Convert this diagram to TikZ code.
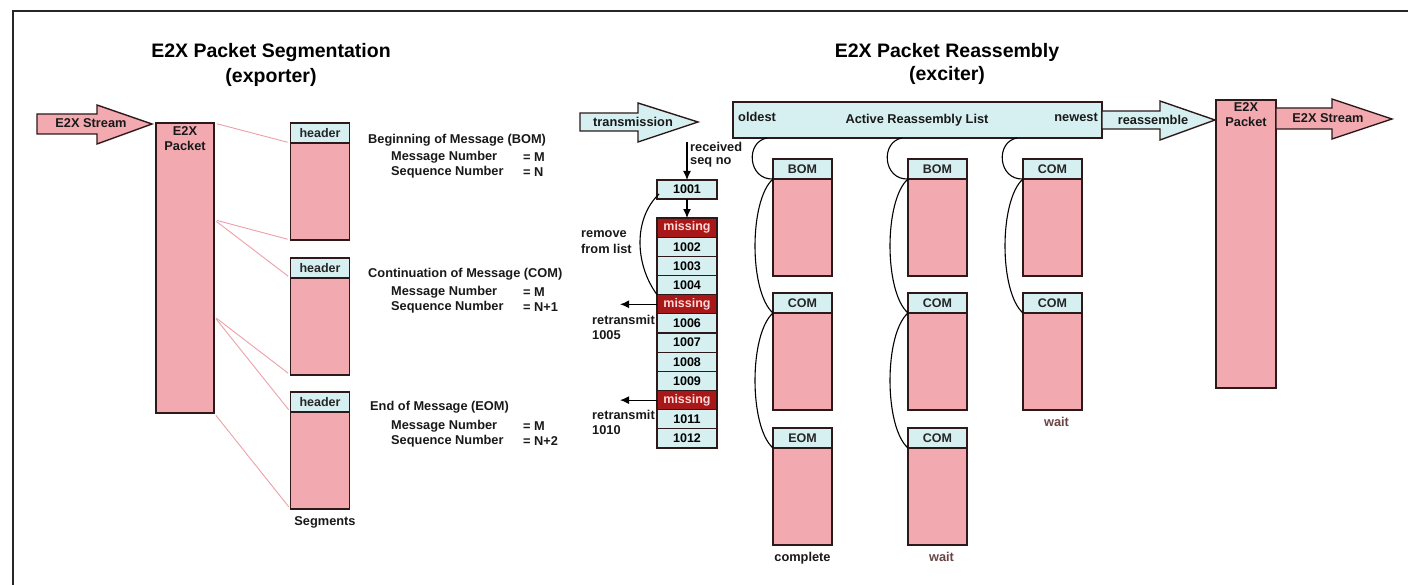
\documentclass[tikz,border=0pt]{standalone}
\usepackage{fontspec}
\setmainfont{Liberation Sans}
\usetikzlibrary{arrows.meta,calc}
\definecolor{pk}{RGB}{242,170,176}
\definecolor{cy}{RGB}{214,240,242}
\definecolor{dr}{RGB}{168,24,24}
\definecolor{edge}{RGB}{45,25,25}
\definecolor{thin}{RGB}{236,160,168}
\definecolor{waitc}{RGB}{105,70,70}
\tikzset{
  lbl/.style={font=\bfseries\fontsize{12.8}{15}\selectfont, inner sep=1pt, text=black!90},
  ttl/.style={font=\bfseries\fontsize{19.5}{23}\selectfont, inner sep=0pt},
  pkbox/.style={draw=edge, fill=pk, line width=1.3pt, inner sep=0pt, outer sep=0pt},
  cybox/.style={draw=edge, fill=cy, line width=1.3pt, inner sep=0pt, outer sep=0pt},
  hdr/.style={cybox, minimum width=59pt, minimum height=20pt, font=\bfseries\fontsize{12.5}{14}\selectfont, text=black!85},
  segbody/.style={pkbox, minimum width=59pt, minimum height=97pt, anchor=north},
  lrow/.style={cybox, minimum width=60pt, minimum height=19.17pt, font=\bfseries\fontsize{12.5}{14}\selectfont},
  mrow/.style={lrow, fill=dr, text={rgb,255:red,255;green,215;blue,215}},
  blockpk/.style={draw=edge, fill=pk, line width=1.4pt, line join=miter},
  blockcy/.style={draw=edge, fill=cy, line width=1.4pt, line join=miter},
  split/.style={draw=thin, line width=0.9pt},
  link/.style={draw=black, line width=1.1pt},
  tip/.style={-{Latex[length=9pt,width=8pt]}, draw=black, line width=1.2pt}
}
\begin{document}
\begin{tikzpicture}[x=1pt,y=-1pt]
\useasboundingbox (0,0) rectangle (1408,585);
\fill[white] (0,0) rectangle (1408,585);
% frame
\draw[line width=2.6pt, black!85] (13,585) -- (13,11) -- (1408,11);

% titles
\node[ttl] (t1) at (271,53) {E2X Packet Segmentation};
\node[ttl] (t1b) at (271,77) {(exporter)};
\node[ttl] (t2) at (947,52) {E2X Packet Reassembly};
\node[ttl] (t2b) at (947,75) {(exciter)};

% ---------- segmentation ----------
\draw[blockpk] (37,114) -- (97,114) -- (97,105) -- (152,124) -- (97,144) -- (97,134) -- (37,134) -- cycle;
\node[lbl] (s1) at (91,123) {E2X Stream};

\node[pkbox, minimum width=58pt, minimum height=290pt, anchor=north west] (pk1) at (156,123) {};
\node[lbl, align=center, anchor=north] (pk1t) at (185,125) {E2X\\Packet};

\node[hdr] (h1) at (320,133) {header};
\node[segbody] (b1) at (h1.south) {};
\node[hdr] (h2) at (320,268) {header};
\node[segbody] (b2) at (h2.south) {};
\node[hdr] (h3) at (320,402) {header};
\node[segbody] (b3) at (h3.south) {};
\node[lbl] (segs) at (325,522) {Segments};

\coordinate (d1) at ($(pk1.north east)!0.3333!(pk1.south east)$);
\coordinate (d2) at ($(pk1.north east)!0.6667!(pk1.south east)$);
\draw[split, shorten <=3pt, shorten >=3pt] (pk1.north east) -- (b1.north west);
\draw[split, shorten <=3pt, shorten >=3pt] (d1) -- (b1.south west);
\draw[split, shorten <=3pt, shorten >=3pt] (d1) -- (b2.north west);
\draw[split, shorten <=3pt, shorten >=3pt] (d2) -- (b2.south west);
\draw[split, shorten <=3pt, shorten >=3pt] (d2) -- (b3.north west);
\draw[split, shorten <=3pt, shorten >=3pt] (pk1.south east) -- (b3.south west);

\node[lbl, anchor=west] (bom) at (367,140) {Beginning of Message (BOM)};
\node[lbl, anchor=west] (bom1) at (390,157) {Message Number};
\node[lbl, anchor=west] (bom1v) at (522,157) {= M};
\node[lbl, anchor=west] (bom2) at (390,172) {Sequence Number};
\node[lbl, anchor=west] (bom2v) at (522,172) {= N};

\node[lbl, anchor=west] (com) at (367,274) {Continuation of Message (COM)};
\node[lbl, anchor=west] (com1) at (390,292) {Message Number};
\node[lbl, anchor=west] (com1v) at (522,292) {= M};
\node[lbl, anchor=west] (com2) at (390,307) {Sequence Number};
\node[lbl, anchor=west] (com2v) at (522,307) {= N+1};

\node[lbl, anchor=west] (eom) at (369,407) {End of Message (EOM)};
\node[lbl, anchor=west] (eom1) at (390,426) {Message Number};
\node[lbl, anchor=west] (eom1v) at (522,426) {= M};
\node[lbl, anchor=west] (eom2) at (390,441) {Sequence Number};
\node[lbl, anchor=west] (eom2v) at (522,441) {= N+2};

% ---------- reassembly ----------
\draw[blockcy] (580,113) -- (638,113) -- (638,103) -- (698,122) -- (638,142) -- (638,131) -- (580,131) -- cycle;
\node[lbl] (tr) at (633,122) {transmission};

\node[cybox, minimum width=369pt, minimum height=36pt, anchor=north west] (arl) at (733,102) {};
\node[lbl] (arlt) at (917,120) {Active Reassembly List};
\node[lbl, anchor=west] (old) at (737,117) {oldest};
\node[lbl, anchor=east] (new) at (1099,117) {newest};

\draw[blockcy] (1102,111) -- (1160,111) -- (1160,101) -- (1215,120) -- (1160,140) -- (1160,129) -- (1102,129) -- cycle;
\node[lbl] (rs) at (1153,120) {reassemble};

\node[pkbox, minimum width=60pt, minimum height=288pt, anchor=north west] (pk2) at (1216,100) {};
\node[lbl, align=center, anchor=north] (pk2t) at (1246,101) {E2X\\Packet};

\draw[blockpk] (1276,108) -- (1332,108) -- (1332,99) -- (1392,119) -- (1332,139) -- (1332,129) -- (1276,129) -- cycle;
\node[lbl] (s2) at (1328,118) {E2X Stream};

% received list
\coordinate (rx) at (687,142);
\node[lbl, anchor=west] (rcv1) at (689,147) {received};
\node[lbl, anchor=west] (rcv2) at (689,162) {seq no};
\node[lrow, minimum height=19pt] (n1001) at (687,189.5) {1001};
\draw[tip] (rx) -- (n1001.north);

\node[mrow] (r1) at (687,227.6) {missing};
\node[lrow] (r2) at (687,246.8) {1002};
\node[lrow] (r3) at (687,265.9) {1003};
\node[lrow] (r4) at (687,285.1) {1004};
\node[mrow] (r5) at (687,304.3) {missing};
\node[lrow] (r6) at (687,323.4) {1006};
\node[lrow] (r7) at (687,342.6) {1007};
\node[lrow] (r8) at (687,361.8) {1008};
\node[lrow] (r9) at (687,380.9) {1009};
\node[mrow] (r10) at (687,400.1) {missing};
\node[lrow] (r11) at (687,419.3) {1011};
\node[lrow] (r12) at (687,438.4) {1012};
\draw[tip] (n1001.south) -- (r1.north);

\draw[link] ($(n1001.south west)+(2,-5)$) .. controls +(-26,25) and +(-22,-30) .. (r4.south west);
\node[lbl, anchor=west] (rm1) at (580,234) {remove};
\node[lbl, anchor=west] (rm2) at (580,249) {from list};

\coordinate (rtx) at (620,0);
\draw[tip] (r5.west) -- (r5.west -| rtx);
\draw[tip] (r10.west) -- (r10.west -| rtx);
\node[lbl, anchor=west] (rt1) at (591,320) {retransmit};
\node[lbl, anchor=west] (rt1n) at (591,335) {1005};
\node[lbl, anchor=west] (rt2) at (591,415) {retransmit};
\node[lbl, anchor=west] (rt2n) at (591,430) {1010};

% reassembly columns
\node[hdr, anchor=north west] (c11) at (773,159) {BOM};
\node[segbody, minimum height=97pt] (c11b) at (c11.south) {};
\node[hdr, anchor=north west] (c12) at (773,293) {COM};
\node[segbody, minimum height=97pt] (c12b) at (c12.south) {};
\node[hdr, anchor=north west] (c13) at (773,428) {EOM};
\node[segbody, minimum height=97pt] (c13b) at (c13.south) {};
\node[lbl, anchor=north] (cmp) at ($(c13b.south)+(0,6)$) {complete};

\node[hdr, anchor=north west] (c21) at (908,159) {BOM};
\node[segbody, minimum height=97pt] (c21b) at (c21.south) {};
\node[hdr, anchor=north west] (c22) at (908,293) {COM};
\node[segbody, minimum height=97pt] (c22b) at (c22.south) {};
\node[hdr, anchor=north west] (c23) at (908,428) {COM};
\node[segbody, minimum height=97pt] (c23b) at (c23.south) {};
\node[lbl, anchor=north, text=waitc] (w2) at ($(c23b.south)+(4,6)$) {wait};

\node[hdr, anchor=north west] (c31) at (1023,159) {COM};
\node[segbody, minimum height=97pt] (c31b) at (c31.south) {};
\node[hdr, anchor=north west] (c32) at (1023,293) {COM};
\node[segbody, minimum height=97pt] (c32b) at (c32.south) {};
\node[lbl, anchor=north, text=waitc] (w3) at ($(c32b.south)+(4,6)$) {wait};

\foreach \c in {1,2,3}{
  \draw[link] ($(c\c1.south west |- arl.south)+(-6,0)$) .. controls +(-22,4) and +(-25,1) .. (c\c1.south west);
  \draw[link] (c\c1.south west) .. controls +(-24,21) and +(-24,-21) .. (c\c2.south west);
}
\foreach \c in {1,2}{
  \draw[link] (c\c2.south west) .. controls +(-24,21) and +(-24,-21) .. (c\c3.south west);
}
\end{tikzpicture}
\end{document}
